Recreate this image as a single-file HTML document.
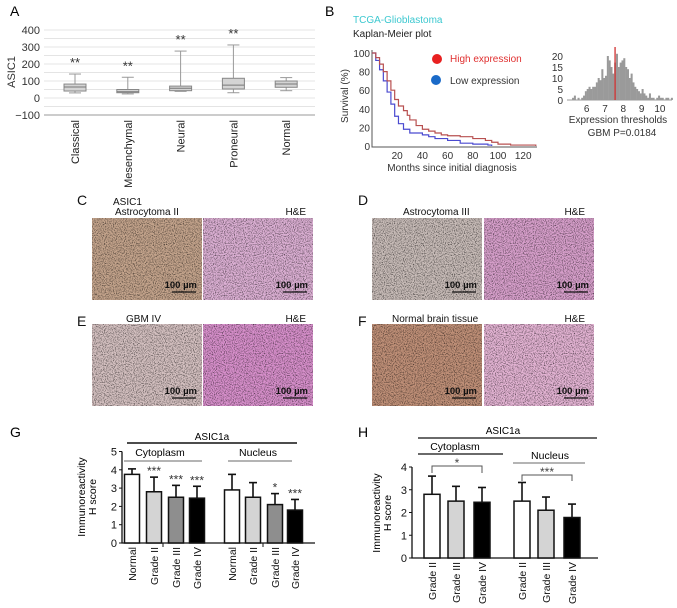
<!DOCTYPE html>
<html><head><meta charset="utf-8"><style>
html,body{margin:0;padding:0;background:#fff}
svg{display:block;font-family:"Liberation Sans",sans-serif}
</style></head><body>
<svg id="fig" width="677" height="608" viewBox="0 0 677 608">
<defs>
<filter id="noise" x="0" y="0" width="100%" height="100%">
<feTurbulence type="fractalNoise" baseFrequency="0.9" numOctaves="2" seed="3" result="t"/>
<feColorMatrix in="t" type="matrix" values="0 0 0 0 0  0 0 0 0 0  0 0 0 0 0  0 0 0 2.2 -1.0" result="a"/>
<feComposite in="a" in2="SourceGraphic" operator="in"/>
</filter>
</defs>
<g id="panelA"></g>
<g id="panelB"></g>
<g id="panelCF"></g>
<g id="panelG"></g>
<g id="panelH"></g>
</svg>
<script>
// ---------- DATA ----------
const aCategories=["Classical","Mesenchymal","Neural","Proneural","Normal"];
const aWhiskerMax=[141,122,276,312,120];
const aBoxQ3=[82,50,70,116,100];
const aMedian=[65,37,57,76,82];
const aBoxQ1=[41,31,43,53,63];
const aWhiskerMin=[30,24,39,31,43];
const aStars=["**","**","**","**",""];
const aTicks=[400,300,200,100,0,-100];

const kmHighMonths=[0,3,6,9,12,15,18,21,25,28,30,35,40,45,50,55,60,70,80,90,95,100,110,130];
const kmHighSurv=[100,95,88,80,70,60,50,43,38,33,28,22,18,16,14,12,11,10,8,6,4,2,1,0];
const kmLowMonths=[0,3,6,9,12,15,18,21,25,30,40,45,50,60,70,80,92,95];
const kmLowSurv=[100,92,82,70,58,45,32,24,18,14,12,10,8,6,3,2,1,0];
const kmXTicks=[20,40,60,80,100,120];
const kmYTicks=[100,80,60,40,20,0];

const histStart=5.0;
const histCounts=[0,0,1,2,0,1,0,1,2,4,5,6,5,6,6,8,10,9,14,10,11,20,18,15,12,17,21,15,17,18,19,15,14,10,12,8,6,5,4,3,5,3,2,1,3,1,1,0,1,2,1,1,0,1,1,0,1];
const histThreshold=7.55;
const histXTicks=[6,7,8,9,10];
const histYTicks=[20,15,10,5,0];

const gCategories=["Normal","Grade II","Grade III","Grade IV","Normal","Grade II","Grade III","Grade IV"];
const gValues=[3.75,2.8,2.5,2.45,2.9,2.5,2.1,1.8];
const gErrors=[4.05,3.6,3.15,3.1,3.75,3.3,2.7,2.38];
const gStars=["","***","***","***","","","*","***"];
const gTicks=[0,1,2,3,4,5];

const hCategories=["Grade II","Grade III","Grade IV","Grade II","Grade III","Grade IV"];
const hValues=[2.8,2.5,2.45,2.5,2.1,1.78];
const hErrors=[3.6,3.15,3.1,3.32,2.68,2.37];
const hTicks=[0,1,2,3,4];

// ---------- HELPERS ----------
const NS="http://www.w3.org/2000/svg";
function el(tag,attrs,parent,txt){const e=document.createElementNS(NS,tag);for(const k in attrs)e.setAttribute(k,attrs[k]);if(txt!==undefined)e.textContent=txt;parent.appendChild(e);return e;}

// ---------- PANEL A ----------
(function(){
const g=document.getElementById('panelA');
const yA=v=>98-v*0.17;
const xA=i=>75+i*52.8;
let t=el('text',{x:10,y:16,'font-size':14},g,'A');


for(let v=-100;v<=400;v+=50){const l=el('line',{x1:44,x2:315,y1:yA(v),y2:yA(v),stroke:v===-100?'#bbb':'#e4e4e4','stroke-width':v===-100?1.5:1},g);

}
aTicks.forEach(v=>{const e=el('text',{x:40,y:yA(v)+4,'font-size':11,'text-anchor':'end',fill:'#333'},g,v<0?'\u2212'+(-v):String(v));

});
t=el('text',{x:15,y:72,'font-size':11,'text-anchor':'middle',transform:'rotate(-90 15 72)',fill:'#333'},g,'ASIC1');


aCategories.forEach((c,i)=>{
 const x=xA(i),w=22;
 const gr=el('g',{},g);
 
 
 el('line',{x1:x,x2:x,y1:yA(aWhiskerMax[i]),y2:yA(aBoxQ3[i]),stroke:'#999'},gr);
 el('line',{x1:x,x2:x,y1:yA(aBoxQ1[i]),y2:yA(aWhiskerMin[i]),stroke:'#999'},gr);
 el('line',{x1:x-6,x2:x+6,y1:yA(aWhiskerMax[i]),y2:yA(aWhiskerMax[i]),stroke:'#999'},gr);
 el('line',{x1:x-6,x2:x+6,y1:yA(aWhiskerMin[i]),y2:yA(aWhiskerMin[i]),stroke:'#999'},gr);
 el('rect',{x:x-w/2,y:yA(aBoxQ3[i]),width:w,height:yA(aBoxQ1[i])-yA(aBoxQ3[i]),fill:'#d4d4d4',stroke:'#888'},gr);
 el('line',{x1:x-w/2,x2:x+w/2,y1:yA(aMedian[i]),y2:yA(aMedian[i]),stroke:'#777'},gr);
 if(aStars[i]){const s=el('text',{x:x,y:yA(aWhiskerMax[i])-7,'font-size':13,'text-anchor':'middle',fill:'#333'},g,aStars[i]);
 
 }
 const lb=el('text',{x:x+4,y:120,'font-size':11,'text-anchor':'end',transform:`rotate(-90 ${x+4} 120)`,fill:'#222'},g,c);
 
 
});
})();

// ---------- PANEL B ----------
(function(){
const g=document.getElementById('panelB');
const xK=m=>372+m*1.26;
const yK=v=>146-v*0.93;
let t=el('text',{x:325,y:16,'font-size':14},g,'B');


t=el('text',{x:353,y:23,'font-size':10,fill:'#3cc8d0'},g,'TCGA-Glioblastoma');


t=el('text',{x:353,y:37,'font-size':10,fill:'#222'},g,'Kaplan-Meier plot');


const ax=el('path',{d:`M372 50 V147 H537`,fill:'none',stroke:'#555','stroke-width':1},g);


kmYTicks.forEach(v=>{const e=el('text',{x:370,y:yK(v)+4,'font-size':10,'text-anchor':'end',fill:'#333'},g,String(v));

});
kmXTicks.forEach(v=>{const e=el('text',{x:xK(v),y:159,'font-size':10,'text-anchor':'middle',fill:'#333'},g,String(v));

});
t=el('text',{x:348,y:96,'font-size':10,'text-anchor':'middle',transform:'rotate(-90 348 96)',fill:'#333'},g,'Survival (%)');


t=el('text',{x:452,y:171,'font-size':10,'text-anchor':'middle',fill:'#333'},g,'Months since initial diagnosis');


function step(ms,ss){let d=`M${xK(ms[0])} ${yK(ss[0])}`;for(let i=1;i<ms.length;i++){d+=` H${xK(ms[i])} V${yK(ss[i])}`;}return d;}
let p=el('path',{d:step(kmLowMonths,kmLowSurv),fill:'none',stroke:'#4a4ad0','stroke-width':1.2},g);


p=el('path',{d:step(kmHighMonths,kmHighSurv),fill:'none',stroke:'#b85050','stroke-width':1.2},g);


let c=el('circle',{cx:437,cy:59,r:5,fill:'#e82020'},g);


t=el('text',{x:450,y:62,'font-size':10,fill:'#e03030'},g,'High expression');


c=el('circle',{cx:436,cy:80,r:5,fill:'#1a6ac8'},g);


t=el('text',{x:450,y:84,'font-size':10,fill:'#333'},g,'Low expression');


// histogram
const xH=v=>586.7+(v-6)*18.3;
const yH=n=>100-n*2.2;
histCounts.forEach((n,i)=>{if(!n)return;const v=histStart+i*0.1;
 const r=el('rect',{x:xH(v),y:yH(n),width:18.3*0.1+0.2,height:yH(0)-yH(n),fill:'#9a9a9a'},g);
 
 });
let l=el('line',{x1:567,x2:672,y1:100,y2:100,stroke:'#999'},g);


l=el('line',{x1:xH(histThreshold),x2:xH(histThreshold),y1:47,y2:100,stroke:'#d03030','stroke-width':1.3},g);


histYTicks.forEach(v=>{const e=el('text',{x:563,y:yH(v)+4,'font-size':10,'text-anchor':'end',fill:'#333'},g,String(v));

});
histXTicks.forEach(v=>{const e=el('text',{x:xH(v),y:112,'font-size':10,'text-anchor':'middle',fill:'#333'},g,String(v));

});
t=el('text',{x:618,y:123,'font-size':10,'text-anchor':'middle',fill:'#333'},g,'Expression thresholds');


t=el('text',{x:622,y:136,'font-size':10,'text-anchor':'middle',fill:'#333'},g,'GBM P=0.0184');


})();

// ---------- PANELS C-F (micrographs) ----------
(function(){
const g=document.getElementById('panelCF');
const imgs=[
 {x:92,y:218,base:'#c4a48c',dot:'#7a4a2c',n:'c-asic1-image'},
 {x:203,y:218,base:'#dcb0d4',dot:'#8a3a9a',n:'c-he-image'},
 {x:372,y:218,base:'#c8bcb8',dot:'#5a5a8a',n:'d-asic1-image'},
 {x:484,y:218,base:'#d8a0cc',dot:'#7a2a8a',n:'d-he-image'},
 {x:92,y:324,base:'#d4c0c0',dot:'#8a7aa8',n:'e-asic1-image'},
 {x:203,y:324,base:'#d890cc',dot:'#7a2a8a',n:'e-he-image'},
 {x:372,y:324,base:'#c09078',dot:'#8a5a3a',n:'f-asic1-image'},
 {x:484,y:324,base:'#e4b4d4',dot:'#a04a9a',n:'f-he-image'}];
imgs.forEach((m,i)=>{
 const gr=el('g',{},g);
 
 
 el('rect',{x:m.x,y:m.y,width:110,height:82,fill:m.base},gr);
 el('rect',{x:m.x,y:m.y,width:110,height:82,fill:m.dot,filter:'url(#noise)',opacity:0.8},gr);
 const s=el('text',{x:m.x+105,y:m.y+70,'font-size':9.5,'font-weight':'bold','text-anchor':'end',fill:'#111'},gr,'100 µm');
 
 
 const sl=el('line',{x1:m.x+80,x2:m.x+104,y1:m.y+74,y2:m.y+74,stroke:'#111','stroke-width':1.3},gr);
 
 
});
const labels=[[77,205,'C',14,'start'],[358,205,'D',14,'start'],[77,326,'E',14,'start'],[358,326,'F',14,'start'],
[113,205,'ASIC1',10,'start'],[115,215,'Astrocytoma II',10,'start'],[306,215,'H&E',10,'end'],
[403,215,'Astrocytoma III',10,'start'],[585,215,'H&E',10,'end'],
[126,322,'GBM IV',10,'start'],[306,322,'H&E',10,'end'],
[392,322,'Normal brain tissue',10,'start'],[585,322,'H&E',10,'end']];
labels.forEach(a=>{const e=el('text',{x:a[0],y:a[1],'font-size':a[3],'text-anchor':a[4],fill:'#111'},g,a[2]);

});
})();

// ---------- BAR CHART HELPER ----------
function barChart(gid,o){
 const g=document.getElementById(gid);
 const y=v=>o.y0-v*o.k;
 o.ticks.forEach(v=>{
  const tk=el('line',{x1:o.ax-3,x2:o.ax,y1:y(v),y2:y(v),stroke:'#111'},g);
  
  
  const e=el('text',{x:o.ax-5,y:y(v)+4,'font-size':11,'text-anchor':'end',fill:'#111'},g,String(v));
  
  });
 const ax=el('path',{d:`M${o.ax} ${y(o.ticks[o.ticks.length-1])} V${o.y0} H${o.xEnd}`,fill:'none',stroke:'#111','stroke-width':1.3},g);
 
 
 o.cats.forEach((c,i)=>{
  const x=o.xs[i],v=o.vals[i],e=o.errs[i],w=o.w;
  const gr=el('g',{},g);
  
  
  el('line',{x1:x,x2:x,y1:y(v),y2:y(e),stroke:'#111','stroke-width':1.6},gr);
  el('line',{x1:x-4,x2:x+4,y1:y(e),y2:y(e),stroke:'#111','stroke-width':1.6},gr);
  el('rect',{x:x-w/2,y:y(v),width:w,height:o.y0-y(v),fill:o.fills[i],stroke:'#111','stroke-width':1.5},gr);
  if(o.stars&&o.stars[i]){const s=el('text',{x:x,y:y(e)-2,'font-size':12,'text-anchor':'middle',fill:'#333'},g,o.stars[i]);
   
   }
  const lb=el('text',{x:x+4,y:o.labY,'font-size':10.5,'text-anchor':'end',transform:`rotate(-90 ${x+4} ${o.labY})`,fill:'#111'},g,c);
  
  
 });
 return y;
}

// ---------- PANEL G ----------
(function(){
const g=document.getElementById('panelG');
barChart('panelG',{y0:543,k:18.3,ax:122,xEnd:315,ticks:gTicks,cats:gCategories,vals:gValues,errs:gErrors,stars:gStars,
 xs:[132,154,176,197,232,253,275,295],w:15,fills:['#fff','#d4d4d4','#8e8e8e','#000','#fff','#d4d4d4','#8e8e8e','#000'],labY:547});
[[163,543],[263,543]].forEach(p=>{const l=el('line',{x1:p[0],x2:p[0],y1:p[1],y2:p[1]+4,stroke:'#111'},g);
 
 });
const items=[['text',{x:10,y:437,'font-size':14},'G','panel-label-g'],
 ['text',{x:212,y:440,'font-size':10,'text-anchor':'middle'},'ASIC1a','group-title'],
 ['line',{x1:127,x2:297,y1:443,y2:443,stroke:'#111','stroke-width':1.6},null,'group-line'],
 ['text',{x:160,y:456,'font-size':10.5,'text-anchor':'middle'},'Cytoplasm','cytoplasm-label'],
 ['line',{x1:124,x2:202,y1:461,y2:461,stroke:'#888','stroke-width':1.2},null,'cytoplasm-line'],
 ['text',{x:258,y:456,'font-size':10.5,'text-anchor':'middle'},'Nucleus','nucleus-label'],
 ['line',{x1:228,x2:292,y1:461,y2:461,stroke:'#888','stroke-width':1.2},null,'nucleus-line'],
 ['text',{x:85,y:497,'font-size':10.5,'text-anchor':'middle',transform:'rotate(-90 85 497)'},'Immunoreactivity','y-axis-title'],
 ['text',{x:96,y:497,'font-size':10.5,'text-anchor':'middle',transform:'rotate(-90 96 497)'},'H score','y-axis-title-2']];
items.forEach(a=>{const e=el(a[0],a[1],g,a[2]===null?undefined:a[2]);
 
 });
})();

// ---------- PANEL H ----------
(function(){
const g=document.getElementById('panelH');
const y=barChart('panelH',{y0:558,k:22.75,ax:412,xEnd:598,ticks:hTicks,cats:hCategories,vals:hValues,errs:hErrors,
 xs:[432,456,482,522,546,572],w:16,fills:['#fff','#d4d4d4','#000','#fff','#d4d4d4','#000'],labY:562});
const items=[['text',{x:358,y:437,'font-size':14},'H','panel-label-h'],
 ['text',{x:503,y:434,'font-size':10,'text-anchor':'middle'},'ASIC1a','group-title'],
 ['line',{x1:418,x2:597,y1:438,y2:438,stroke:'#111','stroke-width':1.2},null,'group-line'],
 ['text',{x:455,y:450,'font-size':10.5,'text-anchor':'middle'},'Cytoplasm','cytoplasm-label'],
 ['line',{x1:418,x2:503,y1:454,y2:454,stroke:'#111','stroke-width':1.2},null,'cytoplasm-line'],
 ['text',{x:550,y:459,'font-size':10.5,'text-anchor':'middle'},'Nucleus','nucleus-label'],
 ['line',{x1:513,x2:585,y1:463,y2:463,stroke:'#888','stroke-width':1.2},null,'nucleus-line'],
 ['path',{d:'M432 473 V466 H482 V473',fill:'none',stroke:'#555'},null,'cytoplasm-bracket'],
 ['text',{x:457,y:467,'font-size':12,'text-anchor':'middle',fill:'#444'},'*','cytoplasm-stars'],
 ['path',{d:'M522 481 V475 H572 V481',fill:'none',stroke:'#555'},null,'nucleus-bracket'],
 ['text',{x:547,y:476,'font-size':12,'text-anchor':'middle',fill:'#444'},'***','nucleus-stars'],
 ['text',{x:380,y:513,'font-size':10.5,'text-anchor':'middle',transform:'rotate(-90 380 513)'},'Immunoreactivity','y-axis-title'],
 ['text',{x:391,y:513,'font-size':10.5,'text-anchor':'middle',transform:'rotate(-90 391 513)'},'H score','y-axis-title-2']];
items.forEach(a=>{const e=el(a[0],a[1],g,a[2]===null?undefined:a[2]);
 
 });
})();
</script>
</body></html>
